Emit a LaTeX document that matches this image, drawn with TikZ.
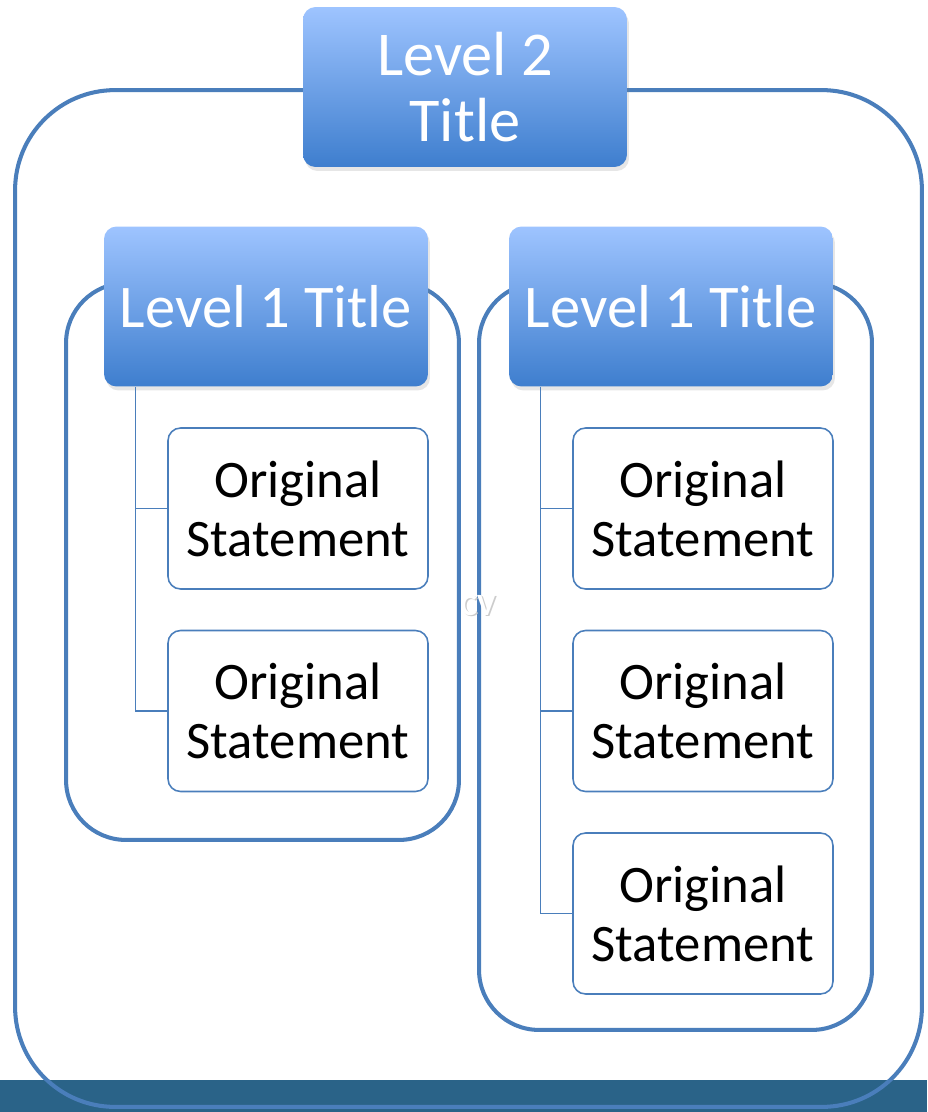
\documentclass[tikz,border=0pt]{standalone}
\usepackage{fontspec}
\setmainfont{Carlito}
\usetikzlibrary{shadows}
\definecolor{frameblue}{RGB}{74,126,187}
\definecolor{lightblue}{RGB}{158,196,255}
\definecolor{deepblue}{RGB}{62,126,206}
\definecolor{barblue}{RGB}{42,99,136}

\begin{document}
\begin{tikzpicture}[x=0.02cm, y=-0.02cm,
    container/.style={draw=frameblue, line width=2.3pt, inner sep=0pt},
    heading/.style={rounded corners=0.25cm, top color=lightblue, bottom color=deepblue, text=white, align=center, minimum width=6.48cm, minimum height=3.2cm, inner sep=0pt, font=\fontsize{34.5}{37.5}\selectfont, drop shadow={opacity=0.2, shadow xshift=0.04cm, shadow yshift=-0.08cm}},
    statement/.style={draw=frameblue, line width=0.9pt, rounded corners=0.25cm, fill=white, align=center, minimum width=5.2cm, minimum height=3.22cm, inner sep=0pt, font=\fontsize{30}{33.5}\selectfont},
    branch/.style={draw=frameblue, line width=0.9pt}]
   \useasboundingbox (0,0) rectangle (927,1112);
   \fill[barblue] (0,1080) rectangle (927,1112);
   \node[container, rounded corners=2cm, minimum width=18.14cm, minimum height=20.34cm] (outer) at (468.5,598.5) {};
   \node[container, rounded corners=1.2cm, minimum width=7.86cm, minimum height=11.14cm] (boxA) at (262.5,561.5) {};
   \node[container, rounded corners=1.2cm, minimum width=7.86cm, minimum height=14.94cm] (boxB) at (675.5,656.5) {};
   \node[heading, font=\fontsize{35.5}{37.5}\selectfont] (top) at (465,87) {Level 2\\Title};
   \node[heading] (ttlA) at (266,306.5) {Level 1 Title};
   \node[heading] (ttlB) at (671,306.5) {Level 1 Title};
   \node[statement] (stA1) at (298,508.5) {Original\\Statement};
   \node[statement] (stA2) at (298,711) {Original\\Statement};
   \node[statement] (stB1) at (703,508.5) {Original\\Statement};
   \node[statement] (stB2) at (703,711) {Original\\Statement};
   \node[statement] (stB3) at (703,913.5) {Original\\Statement};
   \draw[branch] ([xshift=0.64cm]ttlA.south west) |- (stA1.west);
   \draw[branch] ([xshift=0.64cm]ttlA.south west) |- (stA2.west);
   \draw[branch] ([xshift=0.64cm]ttlB.south west) |- (stB1.west);
   \draw[branch] ([xshift=0.64cm]ttlB.south west) |- (stB2.west);
   \draw[branch] ([xshift=0.64cm]ttlB.south west) |- (stB3.west);
   \node[text=black!20, font=\bfseries\fontsize{17.6}{18}\selectfont] (cvshade) at (479.5,606.5) {CV};
   \node[text=white, font=\bfseries\fontsize{17.6}{18}\selectfont] (cv) at (478,605) {CV};
\end{tikzpicture}
\end{document}
